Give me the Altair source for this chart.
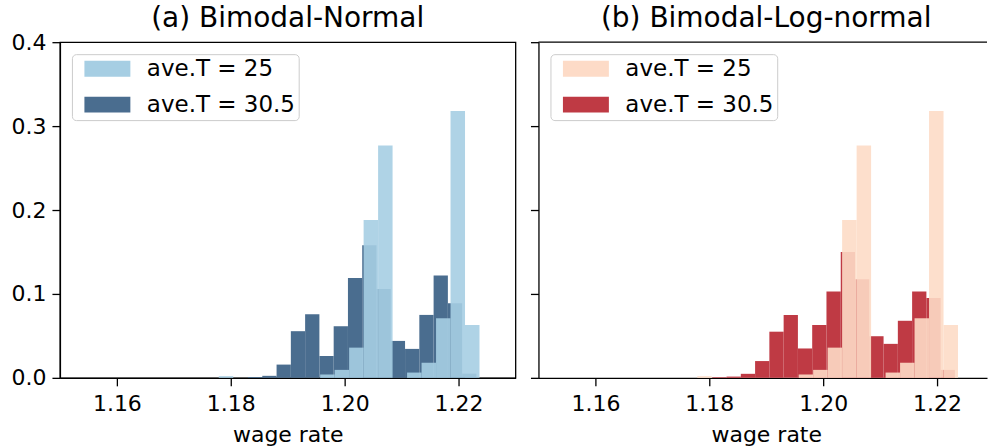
import altair as alt
import pandas as pd

FONT = "DejaVu Sans"

# x range of both panels (wage rate)
X_MIN = 1.15
X_MAX = 1.23
X_TICKS = [1.16, 1.18, 1.20, 1.22]
Y_TICKS = [0.0, 0.1, 0.2, 0.3, 0.4]

TITLES = ["(a) Bimodal-Normal", "(b) Bimodal-Log-normal"]
LABEL_LOW = "ave.T = 25"
LABEL_HIGH = "ave.T = 30.5"

# ave.T = 25: same histogram in both panels
LOW_T_BIN_START = 1.17789
LOW_T_BIN_WIDTH = 0.002544
LOW_T_FREQ = [0.002, 0, 0, 0, 0, 0, 0, 0.004, 0.0095, 0.036,
              0.188, 0.277, 0, 0.0063, 0.018, 0.071, 0.318, 0.063]

# ave.T = 30.5 histograms
HIGH_T_BIN_WIDTH = 0.002507
NORMAL_HIGH_T_BIN_START = 1.18303
NORMAL_HIGH_T_FREQ = [0.001, 0.0024, 0.0158, 0.0556, 0.0758, 0.026, 0.0615, 0.119,
                      0.158, 0.106, 0.044, 0.0345, 0.075, 0.122, 0.089, 0.005]
LOGNORMAL_HIGH_T_BIN_START = 1.180523
LOGNORMAL_HIGH_T_FREQ = [0.0008, 0.0015, 0.0048, 0.020, 0.055, 0.075, 0.035, 0.063, 0.103,
                         0.150, 0.1175, 0.0496, 0.0405, 0.068, 0.103, 0.095, 0.0095]

PANEL_W = 456
PANEL_H = 336
PX_PER_UNIT = PANEL_W / (X_MAX - X_MIN)


def hist_frame(start, width, freqs, label):
    rows = []
    for i, f in enumerate(freqs):
        x0 = start + i * width
        rows.append({"x0": x0, "x1": x0 + width, "freq": f, "series": label})
    return pd.DataFrame(rows)


# wide legend swatch (46px x 16px), offset to the right of the entry's edge
SYMBOL = "M-0.25,-1L5.5,-1L5.5,1L-0.25,1Z"


def panel(title, high_freq, high_start, colors, width, show_y_labels, boxed):
    x_hi = X_MIN + width / PX_PER_UNIT
    low_df = hist_frame(LOW_T_BIN_START, LOW_T_BIN_WIDTH, LOW_T_FREQ, LABEL_LOW)
    high_df = hist_frame(high_start, HIGH_T_BIN_WIDTH, high_freq, LABEL_HIGH)

    x = alt.X("x0:Q", scale=alt.Scale(domain=[X_MIN, x_hi], nice=False, zero=False),
              axis=alt.Axis(values=X_TICKS, format=".2f", title="wage rate",
                            labelFlush=False, labelPadding=8,
                            titleX=PANEL_W / 2, titleY=64,
                            titleBaseline="alphabetic"))
    y = alt.Y("freq:Q", scale=alt.Scale(domain=[0, 0.4], nice=False),
              axis=alt.Axis(values=Y_TICKS, format=".1f", title=None,
                            labels=show_y_labels))
    color = alt.Color("series:N",
                      scale=alt.Scale(domain=[LABEL_LOW, LABEL_HIGH], range=colors),
                      legend=alt.Legend(title=None, orient="none", legendX=12, legendY=12,
                                        symbolType=SYMBOL, symbolSize=256,
                                        symbolStrokeWidth=0, symbolOpacity=1,
                                        labelFont=FONT, labelFontSize=23,
                                        labelColor="black", labelOffset=49,
                                        rowPadding=12, padding=3,
                                        strokeColor="#cccccc", cornerRadius=4,
                                        fillColor="rgba(255,255,255,0.8)"))

    high = alt.Chart(high_df).mark_rect().encode(
        x=x, x2="x1:Q", y=y, y2=alt.datum(0), color=color)
    low = alt.Chart(low_df).mark_rect(opacity=0.9).encode(
        x=x, x2="x1:Q", y=y, y2=alt.datum(0), color=color)
    heading = alt.Chart(pd.DataFrame({"t": [title]})).mark_text(
        font=FONT, fontSize=28, color="black", align="center", baseline="alphabetic"
    ).encode(text="t:N", x=alt.value(PANEL_W / 2), y=alt.value(-15))

    layers = [high, low, heading]
    if not boxed:
        top = alt.Chart(pd.DataFrame({"k": [0]})).mark_rule(
            color="black", strokeWidth=1.3).encode(
            x=alt.value(0), x2=alt.value(width), y=alt.value(0))
        layers.append(top)

    view = alt.ViewBackground(stroke="black", strokeWidth=1.3) if boxed else \
        alt.ViewBackground(strokeOpacity=0)

    return alt.layer(*layers).properties(width=width, height=PANEL_H, view=view)


left = panel(TITLES[0], NORMAL_HIGH_T_FREQ, NORMAL_HIGH_T_BIN_START,
             ["#a6cee3", "#4a6d8f"], PANEL_W, True, True)
right = panel(TITLES[1], LOGNORMAL_HIGH_T_FREQ, LOGNORMAL_HIGH_T_BIN_START,
              ["#fddbc7", "#bf3a44"], 449, False, False)

chart = alt.hconcat(left, right, spacing=23, bounds="flush").resolve_scale(
    color="independent"
).properties(
    padding={"left": 10, "top": 4, "right": 0, "bottom": 0},
    background="white",
).configure_axis(
    domainColor="black", domainWidth=1.3, tickColor="black", tickWidth=1.3,
    tickSize=8, labelFont=FONT, labelFontSize=22, labelColor="black",
    labelPadding=6, titleFont=FONT, titleFontSize=22, titleFontWeight="normal",
    titleColor="black", grid=False,
)

chart.save("out.html", embed_options={"renderer": "svg", "actions": False})
